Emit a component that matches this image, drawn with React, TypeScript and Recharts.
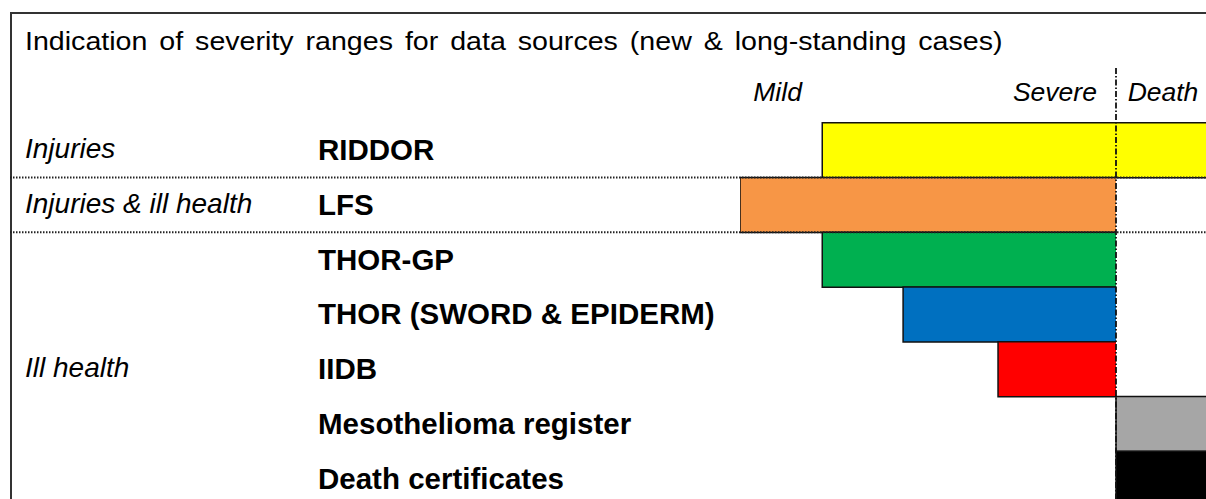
import React from 'react';
import { BarChart, Bar, XAxis, YAxis, ReferenceLine, Cell } from 'recharts';

const sources = ['', 'RIDDOR', 'LFS', 'THOR-GP', 'THOR (SWORD & EPIDERM)', 'IIDB', 'Mesothelioma register', 'Death certificates'];
const groups = ['', 'Injuries', 'Injuries & ill health', '', '', 'Ill health', '', ''];
const rangeStart = [null, 17.5, 0, 17.5, 34.7, 54.9, 80, 80];
const rangeEnd = [null, 100, 80, 80, 80, 80, 100, 100];
const separatorAbove = [false, false, true, true, false, false, false, false];
const severityTicks = [8, 67, 90];
const severityLabels = ['Mild', 'Severe', 'Death'];
const SEVERE_LIMIT = 80;

const colours = ['none', '#ffff00', '#f79646', '#00b050', '#0070c0', '#ff0000', '#a6a6a6', '#000000'];

const FONT = '"Liberation Sans", Arial, sans-serif';
const CHART_W = 1240;
const CHART_H = 520;
const MARGIN = { top: 68, right: 30, bottom: 14, left: 0 };
const ROW_H = (CHART_H - MARGIN.top - MARGIN.bottom) / sources.length;

const data = sources.map((name, i) => ({
  name,
  group: groups[i],
  sep: separatorAbove[i],
  range: rangeStart[i] == null ? null : [rangeStart[i], rangeEnd[i]],
}));

const RowTick = ({ y, payload }: any) => {
  const row = data.find((d) => d.name === payload.value);
  if (!row) return null;
  const top = y - ROW_H / 2;
  return (
    <g>
      {row.sep && (
        <line x1={10} x2={CHART_W} y1={top} y2={top} stroke="#222" strokeWidth={1.8} strokeDasharray="1.5 1.5" />
      )}
      {row.group && (
        <text x={25} y={y} dy={8} fontSize={28} fontStyle="italic" fill="#000" fontFamily={FONT}>
          {row.group}
        </text>
      )}
      <text x={318} y={y} dy={10} fontSize={29.5} fontWeight="bold" fill="#000" fontFamily={FONT}>
        {row.name}
      </text>
    </g>
  );
};

const SeverityTick = ({ x, y, payload }: any) => {
  const label = severityLabels[severityTicks.indexOf(payload.value)];
  return (
    <text x={x} y={y} dy={25} fontSize={26.5} fontStyle="italic" textAnchor="middle" fill="#000" fontFamily={FONT}>
      {label}
    </text>
  );
};

const RangeShape = (props: any) => {
  const { x, y, width, height, fill } = props;
  if (!width || !height || isNaN(x)) return null;
  return (
    <g>
      <rect x={x} y={y} width={width} height={height} fill={fill} />
      <path
        d={`M${x + width},${y}H${x}V${y + height}H${x + width}`}
        fill="none"
        stroke="#111"
        strokeWidth={1.5}
      />
    </g>
  );
};

export default function App() {
  return (
    <div
      style={{
        position: 'fixed',
        left: 0,
        top: 0,
        width: 1206,
        height: 499,
        overflow: 'hidden',
        background: '#fff',
        fontFamily: FONT,
      }}
    >
      <div
        style={{
          position: 'absolute',
          left: 10,
          top: 12,
          width: 1240,
          height: 540,
          border: '2px solid #333',
        }}
      />
      <div
        style={{
          position: 'absolute',
          left: 25,
          top: 28,
          fontSize: 26,
          lineHeight: '26px',
          whiteSpace: 'nowrap',
          wordSpacing: '3.6px',
          color: '#000',
          transform: 'scaleX(1.1)',
          transformOrigin: 'left top',
        }}
      >
        Indication of severity ranges for data sources (new &amp; long-standing cases)
      </div>
      <div style={{ position: 'absolute', left: 0, top: 0 }}>
        <BarChart
          width={CHART_W}
          height={CHART_H}
          data={data}
          layout="vertical"
          margin={MARGIN}
          barCategoryGap={0}
          barGap={0}
        >
          <XAxis
            type="number"
            domain={[0, 100]}
            orientation="top"
            mirror
            ticks={severityTicks}
            axisLine={false}
            tickLine={false}
            tick={<SeverityTick />}
            allowDataOverflow
          />
          <YAxis
            type="category"
            dataKey="name"
            width={740}
            axisLine={false}
            tickLine={false}
            interval={0}
            tick={<RowTick />}
          />
          <Bar dataKey="range" isAnimationActive={false} shape={<RangeShape />}>
            {data.map((d, i) => (
              <Cell key={d.name + i} fill={colours[i]} />
            ))}
          </Bar>
          <ReferenceLine
            x={SEVERE_LIMIT}
            stroke="#111"
            strokeWidth={1.8}
            strokeDasharray="6 2 1.5 2"
          />
        </BarChart>
      </div>
    </div>
  );
}
